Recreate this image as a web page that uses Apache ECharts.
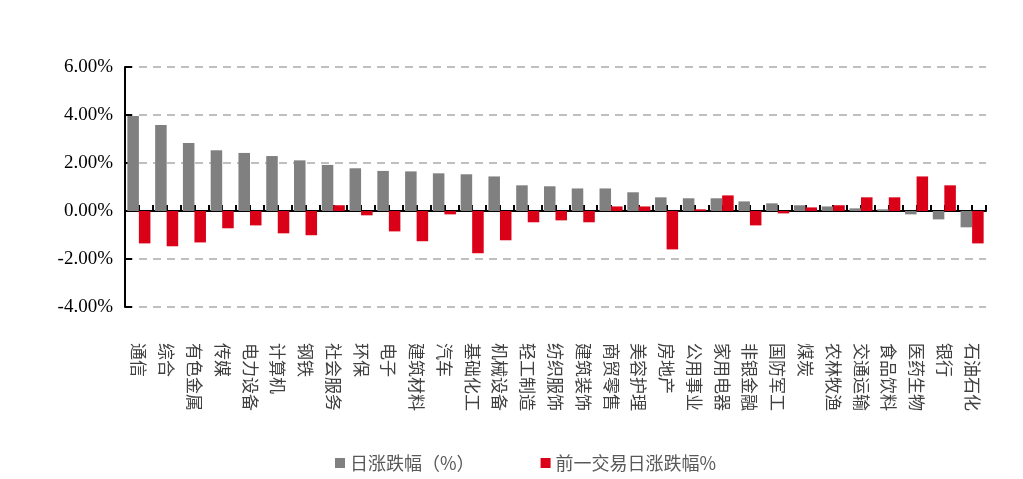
<!DOCTYPE html>
<html>
<head>
<meta charset="utf-8">
<script src="https://cdn.jsdelivr.net/npm/echarts@6/dist/echarts.min.js"></script>
<style>
html,body{margin:0;padding:0;background:#fff;}
#chart{width:1023px;height:479px;}
</style>
</head>
<body>
<div id="chart"></div>
<script>
const categories = ['通信','综合','有色金属','传媒','电力设备','计算机','钢铁','社会服务','环保','电子','建筑材料','汽车','基础化工','机械设备','轻工制造','纺织服饰','建筑装饰','商贸零售','美容护理','房地产','公用事业','家用电器','非银金融','国防军工','煤炭','农林牧渔','交通运输','食品饮料','医药生物','银行','石油石化'];
const dailyChange = [3.96,3.58,2.83,2.53,2.42,2.29,2.11,1.92,1.78,1.67,1.65,1.57,1.53,1.44,1.07,1.03,0.94,0.94,0.78,0.57,0.53,0.53,0.40,0.32,0.24,0.19,0.11,0.07,-0.14,-0.35,-0.68];
const prevDayChange = [-1.35,-1.47,-1.31,-0.72,-0.60,-0.93,-1.01,0.24,-0.18,-0.85,-1.26,-0.14,-1.76,-1.22,-0.47,-0.39,-0.47,0.19,0.19,-1.60,0.07,0.65,-0.60,-0.10,0.15,0.24,0.57,0.57,1.44,1.07,-1.35];
const seriesNames = ['日涨跌幅（%）','前一交易日涨跌幅%'];
const yTicks = {min:-4, max:6, interval:2};

const chart = echarts.init(document.getElementById('chart'));
chart.setOption({
  animation:false,
  backgroundColor:'#ffffff',
  grid:{left:125, right:37, top:67, bottom:172, containLabel:false},
  legend:{
    data:seriesNames,
    left:330, top:449,
    icon:'rect', itemWidth:10, itemHeight:10, itemGap:66,
    textStyle:{fontFamily:'Noto Sans CJK SC', fontSize:18, color:'#595959'}
  },
  xAxis:[{
    type:'category',
    data:categories,
    position:'bottom',
    axisLine:{show:false, onZero:false},
    axisTick:{show:false},
    axisLabel:{rotate:-90, margin:36, interval:0, fontFamily:'Noto Sans CJK SC', fontSize:17, color:'#404040'},
    splitLine:{show:false}
  },{
    type:'value',
    min:0, max:62, interval:1,
    position:'bottom',
    axisLine:{show:true, onZero:true, lineStyle:{color:'#000', width:2}},
    axisTick:{show:true, inside:true, length:6, lineStyle:{color:'#000', width:2}},
    axisLabel:{show:false},
    splitLine:{show:false}
  }],
  yAxis:{
    type:'value',
    min:yTicks.min, max:yTicks.max, interval:yTicks.interval,
    axisLine:{show:true, lineStyle:{color:'#000', width:2}},
    axisTick:{show:true, inside:true, length:7, lineStyle:{color:'#000', width:2}},
    axisLabel:{margin:12, fontFamily:'Liberation Serif', fontSize:19, color:'#000',
      formatter:v=>v.toFixed(2)+'%'},
    splitLine:{show:true, lineStyle:{color:'#BFBFBF', width:2, type:[8,6]}}
  },
  series:[{
    name:seriesNames[0], type:'bar', xAxisIndex:0, data:dailyChange,
    itemStyle:{color:'#808080'}, barGap:'0%', barCategoryGap:'17%'
  },{
    name:seriesNames[1], type:'bar', xAxisIndex:0, data:prevDayChange,
    itemStyle:{color:'#DA0018'}, barGap:'0%', barCategoryGap:'17%'
  }]
});
</script>
</body>
</html>
